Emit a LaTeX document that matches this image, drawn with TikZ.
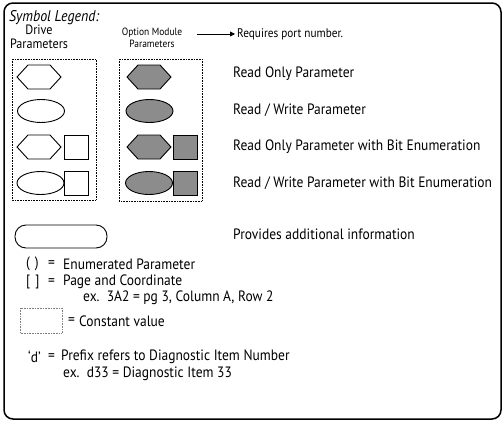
\documentclass[tikz,border=0pt]{standalone}
\usepackage{fontspec}
\setmainfont{PT Sans}[FakeStretch=0.9]
\usepackage{tikz}
\usetikzlibrary{arrows.meta,shapes.geometric}
\definecolor{symgray}{gray}{0.55}
\tikzset{
  symline/.style  = {line width=0.9pt,black},
  dotbox/.style   = {line width=0.5pt,dash pattern=on 0.7pt off 0.9pt},
  lbl/.style      = {inner sep=0pt,anchor=west,font=\fontsize{15}{16}\selectfont},
  small/.style    = {inner sep=0pt,font=\fontsize{13.5}{14}\selectfont,align=center},
  portarr/.style  = {-{Triangle[length=5pt,width=5pt]},line width=0.8pt}
}
% hexagon symbol: centre x, centre y, fill
\newcommand{\hexsym}[3]{%
  \draw[symline,fill=#3] (#1-22,#2) -- (#1-11,#2-12) -- (#1+11,#2-12)
    -- (#1+22,#2) -- (#1+11,#2+12) -- (#1-11,#2+12) -- cycle;
}
% ellipse symbol: centre x, centre y, fill
\newcommand{\ellsym}[3]{%
  \draw[symline,fill=#3] (#1,#2) ellipse [x radius=23.5,y radius=11.5];
}
% bit square: left x, centre y, fill
\newcommand{\bitsym}[3]{%
  \draw[symline,fill=#3] (#1,#2-12) rectangle (#1+24,#2+12);
}

\begin{document}
\begin{tikzpicture}[x=1pt,y=-1pt]
  \useasboundingbox (0,0) rectangle (504,421);
  \draw[line width=1.5pt,rounded corners=9pt] (4,3) rectangle (501,419);

  % heading
  \node[inner sep=0pt,anchor=west,font=\fontsize{15.5}{16}\selectfont\itshape] (title) at (9,18) {Symbol Legend:};
  \node[small] (drive) at (39,37) {Drive\\Parameters};
  \node[small,font=\fontsize{10.5}{11.5}\selectfont] (option) at (152,38) {Option Module\\Parameters};
  \coordinate (arrstart) at (197,34);
  \node[inner sep=0pt,anchor=west,font=\fontsize{12.5}{13}\selectfont] (port) at (237,34) {Requires port number.};
  \draw[portarr,shorten >=2pt] (arrstart) -- (port.west);

  % symbol columns
  \draw[dotbox] (12,59) rectangle (96,200);
  \draw[dotbox] (119,59) rectangle (202,201);

  \hexsym{39}{77}{white}
  \ellsym{41}{111}{white}
  \hexsym{39}{147}{white}  \bitsym{64}{147}{white}
  \ellsym{40.5}{183}{white} \bitsym{64}{183}{white}

  \hexsym{149}{77}{symgray}
  \ellsym{149.5}{111}{symgray}
  \hexsym{149}{147}{symgray}  \bitsym{173}{147}{symgray}
  \ellsym{149}{183}{symgray}  \bitsym{173}{183}{symgray}

  \node[lbl] (ro)   at (233,74)  {Read Only Parameter};
  \node[lbl] (rw)   at (233,110) {Read / Write Parameter};
  \node[lbl] (robit) at (233,147) {Read Only Parameter with Bit Enumeration};
  \node[lbl] (rwbit) at (233,183) {Read / Write Parameter with Bit Enumeration};

  % info box
  \draw[symline,rounded corners=11pt] (15,225) rectangle (107,248);
  \node[lbl] (info) at (233,234) {Provides additional information};

  % notation
  \node[lbl] (paren) at (26,264) {(\hspace{5pt})};
  \node[lbl] (eq1)   at (48,264) {=};
  \node[lbl] (enum)  at (63,264) {Enumerated Parameter};
  \node[lbl] (brack) at (26,282) {[\hspace{5pt}]};
  \node[lbl] (eq2)   at (48,282) {=};
  \node[lbl] (page)  at (63,282) {Page and Coordinate};
  \node[lbl] (pgex)  at (83,298) {ex.\ \ 3A2 = pg 3, Column A, Row 2};
  \draw[dotbox,gray] (20,308) rectangle (62,333);
  \node[lbl] (eq3)   at (68,321) {=};
  \node[lbl] (const) at (79,321) {Constant value};
  \node[lbl] (dpre)  at (28,357) {‘d’};
  \node[lbl] (eq4)   at (48,357) {=};
  \node[lbl] (diag)  at (61,357) {Prefix refers to Diagnostic Item Number};
  \node[lbl] (dex)   at (63,374) {ex.\ \ d33 = Diagnostic Item 33};
\end{tikzpicture}
\end{document}
